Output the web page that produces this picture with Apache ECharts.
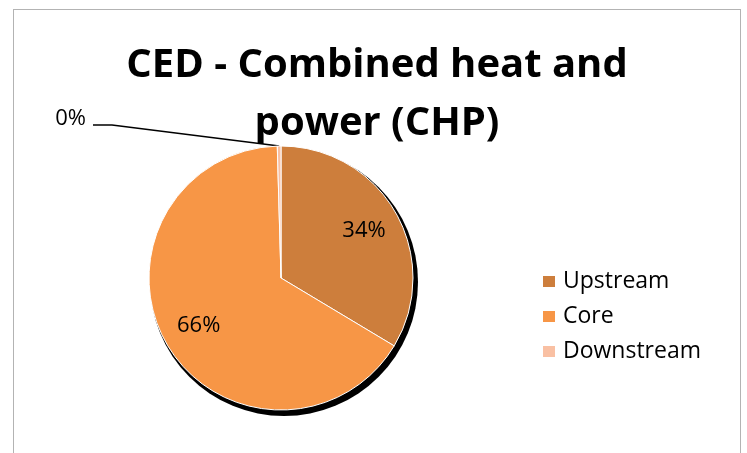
<!DOCTYPE html>
<html>
<head>
<meta charset="utf-8">
<script src="https://cdn.jsdelivr.net/npm/echarts@6/dist/echarts.min.js"></script>
<style>
  html, body { margin: 0; padding: 0; background: #fff; }
  .frame {
    position: absolute; left: 13px; top: 9px; width: 728px; height: 470px;
    border: 1.5px solid #b3b3b3; box-sizing: border-box;
  }
  #chart { position: absolute; left: 0; top: 0; width: 747px; height: 453px; }
</style>
</head>
<body>
<div class="frame"></div>
<div id="chart"></div>
<script>
// values (percent shares of CED)
const categories = ['Upstream', 'Core', 'Downstream']
const values = [33.6, 65.95, 0.45]
const colors = ['#cd7e3c', '#f79646', '#f9c0a3']

const chart = echarts.init(document.getElementById('chart'))
const FONT = '"Open Sans", sans-serif'
const center = [281, 278]
const radius = 132

const pct = p => Math.round(p.percent) + '%'

const mainData = categories.map((name, i) => ({
  name,
  value: values[i],
  itemStyle: { color: colors[i] },
  // only the tiny slice gets an outside label with a leader line
  label: i === 2 ? { show: true, position: 'outside' } : { show: false },
  labelLine: i === 2 ? { show: true } : { show: false }
}))

const overlayData = categories.map((name, i) => ({
  name,
  value: values[i],
  label: { show: i !== 2 }
}))

chart.setOption({
  animation: false,
  title: {
    text: 'CED - Combined heat and\npower (CHP)',
    left: 377,
    top: 37,
    textAlign: 'center',
    padding: 0,
    textStyle: { fontFamily: FONT, fontWeight: 'bold', fontSize: 40, lineHeight: 58, color: '#000' }
  },
  legend: {
    data: categories,
    orient: 'vertical',
    left: 541,
    top: 270,
    icon: 'rect',
    itemWidth: 14,
    itemHeight: 13,
    itemGap: 12,
    padding: 0,
    textStyle: { fontFamily: FONT, fontSize: 23, lineHeight: 23, color: '#000', padding: [0, 0, 0, 2] }
  },
  series: [
    {
      // drop shadow under the pie
      type: 'pie',
      silent: true,
      center: [center[0] + 3, center[1] + 4],
      radius: radius + 2,
      label: { show: false },
      labelLine: { show: false },
      itemStyle: { color: '#000' },
      data: [{ name: 'shadow', value: 1 }]
    },
    {
      name: 'CED',
      type: 'pie',
      center,
      radius,
      startAngle: 90,
      avoidLabelOverlap: false,
      itemStyle: { borderColor: '#fff', borderWidth: 1 },
      label: { formatter: pct, fontFamily: FONT, fontSize: 22, color: '#000' },
      labelLine: { lineStyle: { color: '#000', width: 1.5 } },
      labelLayout: params => {
        if (params.dataIndex !== 2) return {}
        const start = params.labelLinePoints ? params.labelLinePoints[0] : [279, 147]
        return {
          x: 86, y: 119, align: 'right', verticalAlign: 'middle',
          labelLinePoints: [start, [112, 125], [93, 125]]
        }
      },
      emphasis: { disabled: true },
      data: mainData
    },
    {
      // transparent ring to place the inside labels further out
      type: 'pie',
      silent: true,
      center,
      radius: [radius * 0.4, radius],
      startAngle: 90,
      itemStyle: { color: 'rgba(0,0,0,0)' },
      label: { position: 'inside', formatter: pct, fontFamily: FONT, fontSize: 22, color: '#000' },
      labelLine: { show: false },
      data: overlayData
    }
  ]
})
</script>
</body>
</html>
